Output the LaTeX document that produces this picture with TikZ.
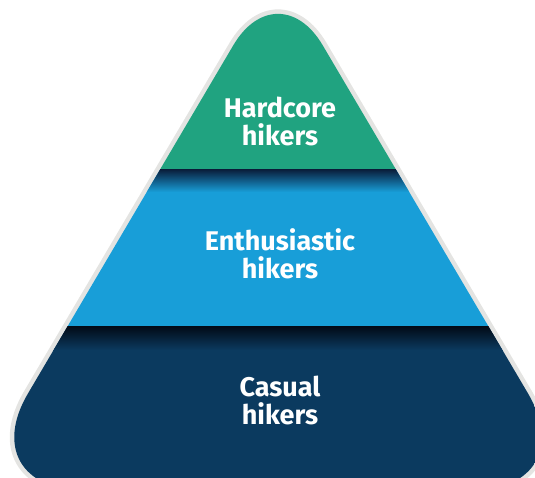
\documentclass[tikz,border=0pt]{standalone}
\usepackage{fontspec}
\setmainfont{Fira Sans}
\usepackage{tikz}

\definecolor{hardgreen}{RGB}{32,163,128}
\definecolor{enthblue}{RGB}{24,158,216}
\definecolor{casualnavy}{RGB}{11,58,95}
\definecolor{rimgray}{RGB}{228,228,226}

% rounded triangle the three tiers sit in
\newcommand{\pyramidoutline}{(83,490) .. controls (21.1,490) and (-3.5,446.8) .. (27.9,393.6)
	-- (233.3,45.3) .. controls (258,3.4) and (298,3.4) .. (322.7,45.3)
	-- (528.1,393.6) .. controls (559.5,446.8) and (534.9,490) .. (473,490) -- cycle}

\begin{document}
\begin{tikzpicture}[x=1pt,y=-1pt,
	tiertext/.style={text=white,font=\bfseries\fontsize{27}{28}\selectfont,align=center,inner sep=0pt}]
	\useasboundingbox (0,0) rectangle (535,478);

	% light rim
	\draw[rimgray,line width=9pt] \pyramidoutline;

	% the tiers
	\begin{scope}
		\clip \pyramidoutline;
		\fill[hardgreen] (-40,-40) rectangle (600,169.5);
		\fill[enthblue] (-40,169.5) rectangle (600,326);
		\fill[casualnavy] (-40,326) rectangle (600,500);
		\shade[top color={rgb,255:red,10;green,30;blue,60},middle color={rgb,255:red,18;green,88;blue,148},bottom color=enthblue] (-40,169.5) rectangle (600,192);
		\shade[top color={rgb,255:red,2;green,10;blue,22},middle color={rgb,255:red,7;green,36;blue,64},bottom color=casualnavy] (-40,326) rectangle (600,350);
	\end{scope}

	\node[tiertext] (hardcore) at (280,121.5) {Hardcore\\hikers};
	\node[tiertext] (enthusiastic) at (280,254) {Enthusiastic\\hikers};
	\node[tiertext] (casual) at (280,400) {Casual\\hikers};
\end{tikzpicture}
\end{document}
